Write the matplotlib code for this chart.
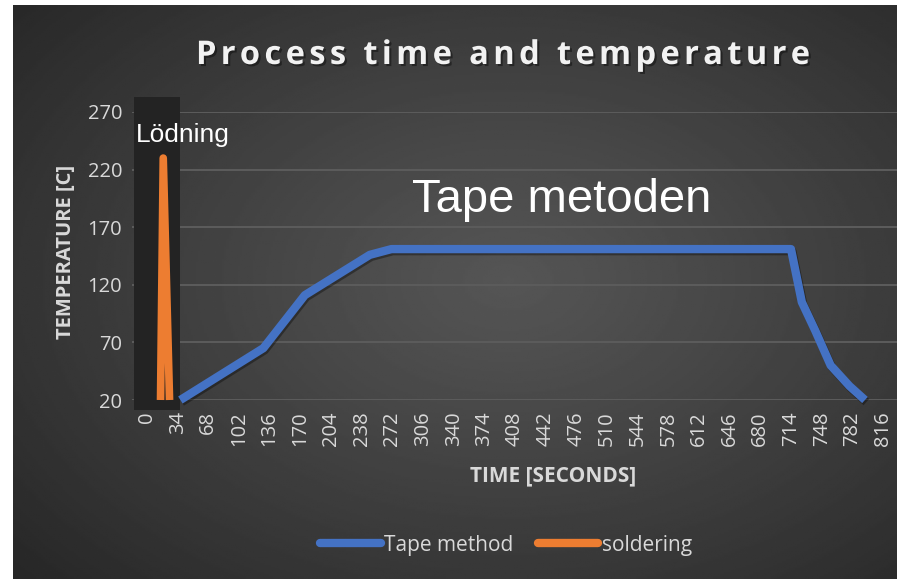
import numpy as np
import matplotlib
matplotlib.use('Agg')
import matplotlib.pyplot as plt
from matplotlib.patches import Rectangle
from matplotlib.lines import Line2D
import matplotlib.patheffects as pe

# ---- data ----
tape_time = [37, 129, 175, 247, 271, 714, 726, 741, 758, 779, 796]
tape_temp = [20, 65, 111, 146, 151, 151, 105, 80, 50, 32, 20]
solder_time = [15, 18, 25]
solder_temp = [20, 230, 20]
x_ticks = list(range(0, 817, 34))
y_ticks = [20, 70, 120, 170, 220, 270]
title = "Process time and temperature"
series_names = ["Tape method", "soldering"]

W, H = 897, 579
FONT = 'Open Sans'
fig = plt.figure(figsize=(W / 100, H / 100), dpi=100, facecolor='white')

# ---- background gradient panel ----
bg = fig.add_axes([13 / W, 0, 1 - 13 / W, 1 - 5 / H])
bg.set_axis_off()
yy, xx = np.mgrid[0:1:300j, 0:1:400j]
r = np.sqrt(((xx - 0.56) / 0.78) ** 2 + ((yy - 0.48) / 0.8) ** 2)
val = 0x55 - (0x55 - 0x25) * np.clip(r, 0, 1) ** 1.1
bg.imshow(val / 255, cmap='gray', vmin=0, vmax=1, aspect='auto', extent=[0, 1, 0, 1])
bg.set_xlim(0, 1)
bg.set_ylim(0, 1)

# ---- main axes ----
ax = fig.add_axes([132 / W, 1 - 400 / H, (W - 132) / W, 288 / H])
ax.patch.set_alpha(0)
px_per = (883 - 147) / 816
py_per = 288 / 250
ax.set_xlim(-(147 - 132) / px_per, 816 + (897 - 883) / px_per)
ax.set_ylim(20, 270)
for s in ax.spines.values():
    s.set_visible(False)
ax.set_yticks(y_ticks)
ax.set_xticks(x_ticks)
ax.set_xticklabels([str(v) for v in x_ticks], rotation=90)
ax.grid(axis='y', color='#5c5c5c', lw=1.4, zorder=0.5)
ax.set_axisbelow(True)
ax.tick_params(axis='both', length=0, colors='#d9d9d9', labelsize=14.5)
ax.tick_params(axis='x', pad=8)
ax.tick_params(axis='y', pad=7)
for lab in ax.get_xticklabels() + ax.get_yticklabels():
    lab.set_family(FONT)

# dark overlay block at left
x0 = (134 - 147) / px_per
x1 = (180 - 147) / px_per
y0 = 20 - 10 / py_per
y1 = 20 + 303 / py_per
ax.add_patch(Rectangle((x0, y0), x1 - x0, y1 - y0, facecolor='#232323',
                       edgecolor='none', clip_on=False, zorder=1.5))

shadow = [pe.SimpleLineShadow(offset=(1, -1.5), shadow_color='black', alpha=0.35), pe.Normal()]
ax.plot(tape_time, tape_temp, color='#4472C4', lw=6, solid_joinstyle='round',
        solid_capstyle='butt', clip_on=False, zorder=3, path_effects=shadow)
ax.plot(solder_time, solder_temp, color='#ED7D31', lw=5.5, solid_joinstyle='round',
        solid_capstyle='butt', clip_on=False, zorder=3)

# annotations
ax.text((136 - 147) / px_per, 20 + (400 - 142) / py_per, "Lödning", color='white',
        family='Liberation Sans', fontsize=19, ha='left', va='baseline', zorder=4)
ax.text((562 - 147) / px_per, 20 + (400 - 212) / py_per, "Tape metoden", color='white',
        family='Liberation Sans', fontsize=34, ha='center', va='baseline', zorder=4)

# axis labels
fig.text(66 / W, 1 - 252 / H, "TEMPERATURE [C]", rotation=90, ha='center', va='center',
         color='#d9d9d9', fontsize=14.5, fontweight='bold', family=FONT)
fig.text(553 / W, 1 - 476 / H, "TIME [SECONDS]", ha='center', va='center',
         color='#d9d9d9', fontsize=15, fontweight='bold', family=FONT)

# title with letter spacing
fig.canvas.draw()
rend = fig.canvas.get_renderer()
tprops = dict(fontsize=23.5, fontweight='bold', family=FONT, color='#f2f2f2')

def twidth(s):
    t = fig.text(0, 0, s, **tprops)
    w = t.get_window_extent(rend).width
    t.remove()
    return w

base = twidth("nn")
adv = [twidth("n" + ch + "n") - base for ch in title]
natural = sum(adv[:-1]) + twidth(title[-1])
target = 810 - 196
sp = (target - natural) / (len(title) - 1)
xpos = 196
tshadow = [pe.withSimplePatchShadow(offset=(1.5, -1.5), shadow_rgbFace='black', alpha=0.4)]
for ch, a in zip(title, adv):
    if ch != ' ':
        fig.text(xpos / W, 1 - 64 / H, ch, ha='left', va='baseline',
                 path_effects=tshadow, **tprops)
    xpos += a + sp

# legend
handles = [Line2D([], [], color='#4472C4', lw=6, solid_capstyle='round'),
           Line2D([], [], color='#ED7D31', lw=6, solid_capstyle='round')]
fig.legend(handles, series_names, loc='center', bbox_to_anchor=(506 / W, 1 - 545 / H),
           ncol=2, frameon=False, handlelength=2.9, handletextpad=0.15, columnspacing=1.2,
           prop={'family': FONT, 'size': 15}, labelcolor='#d9d9d9')

fig.savefig('out.png', dpi=100, facecolor=fig.get_facecolor())
